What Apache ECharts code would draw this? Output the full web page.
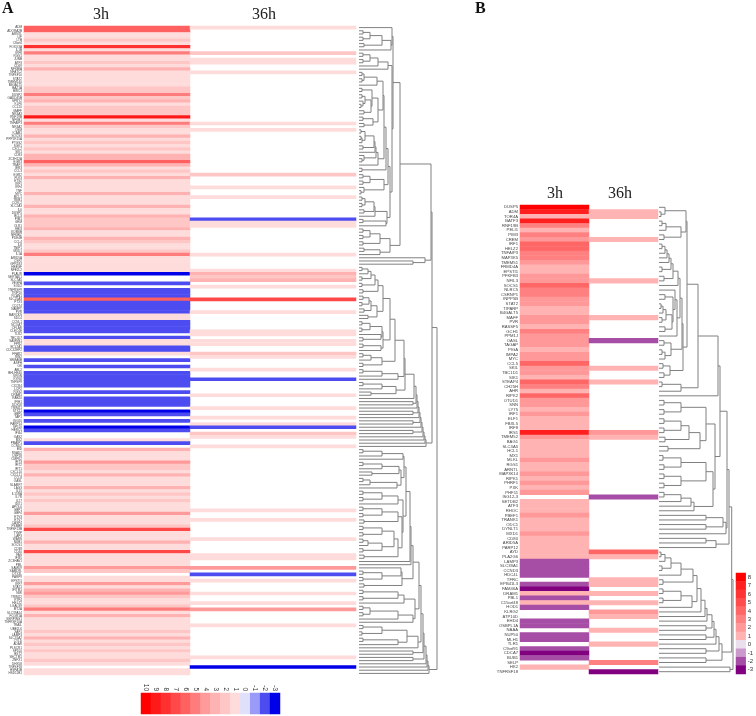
<!DOCTYPE html>
<html><head><meta charset="utf-8">
<style>html,body{margin:0;padding:0;background:#fff}#c{width:756px;height:716px}</style>
<script src="https://cdn.jsdelivr.net/npm/echarts@6/dist/echarts.min.js"></script>
</head><body><div id="c"></div>
<script>
const n = null, L = 0;
const columns = ['3h', '36h'];

const genesA = [
'ADM','ADORA2B','ARNTL','LIF','LTB','C8orf4','FOXO3A','IL1B','IRF8','RGS1',
'JUNB','ATF3','CD69','NFKBIA','NFATC2','TNFSF10','STAT2','TMEM140','B4GALT5','BAZ1A',
'BIRC3','DUSP2','GADD45B','SPRY2','KLF6','CCL20','MAFF','NR4A3','RNF19B','NFKB1',
'TNFAIP3','NR4A2','OSM','ICAM1','SOCS3','PPP1R15A','PTGS2','SGK1','CXCL2','SIK1',
'CD83','ZC3H12A','EGR3','TRAF1','IER3','CCL3','EGR2','PLK3','ETS2','IRF1',
'IRF4','TNF','MYC','MCL1','TRIB1','CCRL2','SLC2A3','IL6','DUSP5','BCL3',
'PIM1','GEM','OLR1','EBI3','KDM6B','NFKBIZ','PDE4B','CCL4','IL8','TNIP1',
'MXD1','IL1A','ARID5A','CSF2','GPR183','HBEGF','NFE2L2','PLAUR','SERTAD1','SLC7A5',
'VEGFA','SOD2','TNFRSF9','TRIP10','RCAN1','SLC25A3','PTX3','CD274','NAMPT','PVR',
'MARCKS','SDC4','CCNL1','NCOA7','CFLAR','CLEC4E','TLR2','TBC1D7','SAMSN1','FPR2',
'BCL2A1','CDC42EP2','FFAR2','RIN2','SEMA6B','ASPH','GK','ABL2','BHLHE40','SRGN',
'KYNU','TNFSF9','CXCR4','LCP2','RGS2','DRAM1','RAB20','IFIH1','DDX58','TRIM21',
'STX11','GBP5','TAP1','ISG20','PARP14','SP110','HERC5','IFI44','OAS2','MX2',
'PMAIP1','CCND2','BID','RSAD2','USP18','CMPK2','IFIT3','IFIT2','IFIT1','CXCL10',
'CXCL11','CCL8','OASL','SLAMF7','LAG3','IL15','IL15RA','IL7R','IL27','IDO1',
'APOL6','GBP1','GBP4','ETV3','ETV7','CASP4','PSMB9','TNFSF13B','TYMP','LAP3',
'WARS','NUB1','SOCS1','CD38','CD40','FAS','IFI35','ZC3HAV1','PML','SAMD9',
'SAMD9L','DTX3L','PARP9','EPSTI1','IRF7','STAT1','IFITM1','NMI','TRIM22','RTP4',
'HELZ2','LGALS9','MT2A','SLC39A14','FCGR1A','SERPING1','TNFRSF10A','TRAIL','UBE2L6','XAF1',
'LAMP3','SLC31A2','CYLD','ADAR','PLSCR1','SP100','BST2','SECTM1','ZNFX1','DHX58',
'TNFSF18','HSPA1B','HSD11B1'];

const values3hA = [
6,6,1,1,2,1,8,1,5,1,
1,2,1,3,1,1,1,1,1,2,
2,5,2,3,1,2,2,2,9,1,
5,2,1,1,3,1,2,1,2,1,
3,3,6,3,1,2,1,3,1,1,
1,1,3,1,1,1,3,1,1,3,
2,2,2,3,1,1,3,2,1,1,
2,5,1,1,1,1,1,-3,n,n,
-2,n,-2,-2,-2,6,-2,-2,-2,-2,
1,1,-2,-2,-2,-2,n,-2,1,1,
-2,-2,1,n,-2,n,-2,n,-2,-2,
-2,-2,-2,n,-2,n,-2,-2,-2,n,
-3,-2,n,-2,n,-3,-2,n,n,1,
-2,n,3,1,1,1,4,2,2,1,
3,1,1,1,3,1,2,1,2,1,
1,1,4,1,1,1,2,7,1,1,
1,3,1,1,7,1,1,1,1,4,
2,n,1,1,4,1,3,4,2,1,
1,2,5,1,3,1,1,1,1,2,
1,3,1,2,1,2,1,1,2,1,
n,1,1];

const rows36hA = [0,8,10,11,14,30,32,46,50,53,60,61,62,71,76,77,78,79,81,85,89,95,96,98,99,102,103,107,110,115,119,122,124,125,127,128,131,151,154,160,165,166,169,171,173,177,180,182,187,197,200];
const values36hA = [1,2,1,1,1,1,1,2,1,1,-2,1,1,1,1,3,2,3,1,7,1,1,1,1,1,2,1,1,-2,1,1,1,1,-2,2,1,1,1,1,1,1,1,4,-2,1,1,1,4,1,1,-3];

const genesB = [
'DUSP5','ADM','TOR4A','BATF3','RNF19B','PELI1','PIM3','CREM','IRF1','HELZ2',
'TNFAIP3','MAP3K5','TMEM51','FRMD4A','EPSTI1','PFKFB3','NFIL3','SOCS1','NLRC5','CSRNP1',
'INPP5B','STAT2','TIPARP','B4GALT5','MAFF','PVR','RASSF5','GCH1','PPM1J','OASL',
'TAGAP','PIGA','IMPA2','MYC','CCL5','SKIL','TBC1D1','SIK1','STEAP4','CH25H',
'AHR','RIPK2','OTUD1','SNN','LY75','IRF1','ELF1','FBXL5','IRF8','IRS1',
'TMEM52','BAG1','SLC3A5','HCL1','MX1','MLKL','RGS1','ARNTL','MAP3K14','RIPK1',
'PHRF1','PXK','PHF11','ISG12-3','SETDB2','ATF3','RHOC','PBEF1','TRANK1','ODC1',
'DYNLT1','MXD1','CD80','ARID5A','PARP12','AYD','PLA2G6','LAMP3','SLC39A1','CCND3',
'HDC4L','TFRC','EPB41L3','FAM46A','DRAM1','PBL1','C15orf48','HOD1','KLRG2','ATP10D',
'EHD4','OSBPL1A','NAAA','NUP50','MLH1','TLR1','C9orf91','CDCA7','BUB1','SELP',
'HK2','TNFRSF18'];

const values3hB = [
8,7,1,7,3,1,3,2,4,4,
3,3,2,1,1,2,2,4,3,3,
2,2,1,1,2,2,1,3,2,2,
2,1,2,2,4,2,2,1,4,3,
1,4,2,2,1,2,1,1,1,7,
2,1,1,1,1,2,1,1,2,1,
2,1,2,n,1,1,1,2,1,1,
1,2,1,1,1,1,1,-2,-2,-2,
-2,n,-2,-3,1,-2,1,-2,n,n,
-2,-2,n,-2,-2,n,-2,-3,-2,n,
1,n];
const rows36hB = [1,2,7,16,24,29,35,38,49,50,63,75,76,81,82,84,86,88,89,92,95,99,101];
const values36hB = [1,1,1,1,1,-2,1,1,2,1,-2,4,1,1,1,1,1,2,1,1,1,3,-3];

const legendA = [10,9,8,7,6,5,4,3,2,1,0,-1,-2,-3];
const coloursA = ['#ff0000','#ff1a1a','#ff3030','#ff4848','#ff6060','#ff7c7c','#ff9a9a','#ffb2b2','#ffc6c6','#ffdcdc','#e0e0fb','#9a9af8','#4c4cf0','#0000e8'];
const legendB = [8,7,6,5,4,3,2,1,0,-1,-2,-3];
const coloursB = ['#ff0000','#ff1f1f','#ff3434','#ff4c4c','#ff6666','#ff8080','#ff9999','#ffb3b3','#ebdfee','#cc99cc','#a64da6','#800080'];

/* dendrogram A: [merge height, upper child, lower child]; L is a leaf */
const a1 = [33,L,[32,[23,[11,[4,L,L],[4,L,L]],[5,L,L]],L]];
const a2 = [29,[19,[11,[4,L,L],[4,L,L]],L],L];
const a3a = [18,[5,[3,L,L],[3,L,L]],L];
const a3b = [19,[13,[3,L,L],[12,[6,[3,L,L],[4,L,[2,L,L]]],[5,L,L]]],[14,[4,L,L],[5,L,L]]];
const a3c = [19,[17,[16,[15,[6,[2,L,L],[3,[2,L,L],L]],[4,L,L]],L],[5,L,[3,L,L]]],L];
const a3 = [27,[25,[24,a3a,a3b],a3c],[3,L,L]];
const a4 = [25,[11,[4,L,L],[4,L,L]],[5,L,[2,L,L]]];
const a5 = [16,[15,[6,[3,L,L],[3,L,L]],[5,L,L]],L];
const a6 = [27,[4,L,L],L];
const a7 = [31,[21,[11,[4,L,L],[4,L,L]],[4,L,L]],[21,[5,L,L],L]];
const aRest = [33,a2,[31,[29,a3,a4],[28,a5,a6]]];
const aTop = [41,[34,a1,aRest],a7];
const m1 = [19,[16,[12,[9,[3,L,L],L],[3,L,L]],[3,L,L]],[4,L,L]];
const m2 = [18,[12,[10,[4,L,L],[3,L,L]],[5,L,L]],[9,L,L]];
const m3 = [24,[23,[11,[3,L,L],[3,L,L]],[22,L,[4,L,L]]],[22,[4,L,L],L]];
const m4 = [23,[12,[4,L,L],L],[4,L,L]];
const m5 = [39,[23,[4,L,L],L],L];
const m6 = [37,[23,[4,L,L],L],[12,L,L]];
const mCore = [46,[45,[36,[31,[24,m1,m2],m3],m4],m5],m6];
const mLadder = [67,[66,[65,[64,[63,[62,[61,[60,[59,[58,[57,[55,mCore,L],[54,L,L]],L],[54,L,L]],L],[54,L,L]],L],[54,L,L]],L],L],L],L];
const q1 = [44,[23,[4,L,L],L],L];
const q2 = [40,[23,[4,L,L],L],[13,L,L]];
const q3 = [38,[11,[4,L,L],L],L];
const q4 = [39,[23,[4,L,L],[4,L,L]],L];
const q5 = [39,[23,[4,L,L],[4,L,L]],[5,L,L]];
const q6 = [39,[35,[23,[4,L,L],[4,L,L]],[23,[9,[4,L,L],L],[4,L,L]]],[5,L,L]];
const q7 = [43,[42,L,[23,[4,L,L],[4,L,L]]],[5,L,L]];
const q8 = [45,[39,[4,L,L],[4,L,L]],L];
const q9 = [54,[39,[11,[4,L,L],[4,L,L]],L],L];
const q10 = [59,[48,[23,[4,L,L],[3,L,L]],[39,[4,L,L],L]],L];
const qCore = [52,[51,[47,[45,q1,[42,q2,q3]],[44,q4,[43,q5,q6]]],L],L];
const qLadder = [70,[69,[68,[67,[65,[64,[62,[60,[54,qCore,q7],[56,q8,q9]],q10],[54,L,L]],[54,L,L]],L],L],L],L];
const treeA = [78,[73,[72,aTop,[66,L,[54,L,L]]],mLadder],qLadder];

/* dendrogram B */
const b12 = [27,[6,L,[2,L,L]],[22,[7,[3,L,L],L],[5,L,L]]];
const bA = [19,[14,[12,[10,[8,[6,[3,L,L],L],L],L],[3,L,L]],[5,L,L]],L];
const bB = [18,[16,L,[14,[6,L,L],[13,[7,[4,[2,L,L],L],[3,L,L]],[6,L,L]]]],L];
const bC = [12,[5,L,L],[6,[3,L,L],L]];
const bD = [11,[4,L,L],[5,L,L]];
const bE = [28,b12,[24,[23,[21,bA,bB],bC],bD]];
const bT = [59,[39,bE,[22,[3,L,L],L]],L];
const bF1 = [22,[5,L,L],[5,L,L]];
const bF2 = [41,[30,[22,[5,L,L],[5,L,L]],[6,L,L]],[9,L,L]];
const bF3 = [54,[47,[22,[4,L,L],[5,L,L]],[22,[5,L,L],[5,L,L]]],[35,[32,[22,[5,L,L],L],L],L]];
const bFF = [56,[47,bF1,bF2],bF3];
const bG = [67,[64,[47,L,L],[47,L,L]],L];
const bU = [70,[68,[61,bT,bFF],bG],[57,[47,L,L],L]];
const bX1 = [22,[12,[6,[2,L,L],L],[3,L,L]],L];
const bB1 = [38,[34,bX1,[4,L,L]],[33,[22,[4,L,L],[4,L,L]],L]];
const bBot = [63,[60,[57,[55,[53,[48,[46,[42,bB1,L],L],L],[47,L,L]],[47,L,L]],L],[47,L,L]],[47,L,L]];
const treeB = [74,[72.7,bU,bBot],[71,L,L]];

function segments(tree) {
  const segs = []; let leaf = 0;
  (function walk(node) {
    if (node === L) { leaf++; return [0, leaf - 0.5]; }
    const a = walk(node[1]), b = walk(node[2]), h = node[0];
    segs.push([a[0], a[1], h, a[1]], [b[0], b[1], h, b[1]], [h, a[1], h, b[1]]);
    return [h, (a[1] + b[1]) / 2];
  })(tree);
  segs.leaves = leaf;
  return segs;
}
const segA = segments(treeA), segB = segments(treeB);
if (segA.leaves !== genesA.length || values3hA.length !== genesA.length) throw new Error('A ' + segA.leaves + ' ' + genesA.length + ' ' + values3hA.length);
if (segB.leaves !== genesB.length || values3hB.length !== genesB.length) throw new Error('B ' + segB.leaves + ' ' + genesB.length + ' ' + values3hB.length);

function cells(v3h, rows36, v36) {
  const out = [];
  v3h.forEach((v, i) => { if (v !== n) out.push([0, i, v]); });
  rows36.forEach((r, i) => out.push([1, r, v36[i]]));
  return out;
}
const serif = '"Liberation Serif","Times New Roman",serif', sans = '"Liberation Sans",Arial,sans-serif';
const heat = (xi, yi, data) => ({type:'heatmap', xAxisIndex:xi, yAxisIndex:yi, data, silent:true, itemStyle:{borderWidth:0}, emphasis:{disabled:true}});
const dendro = (xi, yi, data) => ({
  type:'custom', xAxisIndex:xi, yAxisIndex:yi, data, silent:true, clip:false,
  encode:{x:[0,2], y:[1,3]},
  renderItem(p, api) {
    const a = api.coord([api.value(0), api.value(1)]), b = api.coord([api.value(2), api.value(3)]);
    return {type:'line', shape:{x1:a[0], y1:a[1], x2:b[0], y2:b[1]}, style:{stroke:'#808080', lineWidth:1}};
  }
});
const colAxis = gridIndex => ({type:'category', gridIndex, data:columns, position:'top',
  axisLine:{show:false}, axisTick:{show:false}, splitLine:{show:false}, axisLabel:{show:false}});
const geneAxis = (gridIndex, data, size) => ({type:'category', gridIndex, data, inverse:true,
  axisLine:{show:false}, axisTick:{show:false}, splitLine:{show:false},
  axisLabel:{interval:0, fontFamily:sans, fontSize:size, color:'#444', margin:2, hideOverlap:false}});
const treeX = gridIndex => ({type:'value', gridIndex, min:0, max:80, show:false});
const treeY = (gridIndex, count) => ({type:'value', gridIndex, min:0, max:count, inverse:true, show:false});
const panel = (text, left) => ({text, left, top:1, padding:0, textStyle:{fontFamily:serif, fontSize:16, fontWeight:'bold', color:'#111'}});
const head = (text, left, top) => ({text, left, top, padding:0, textAlign:'center', textStyle:{fontFamily:serif, fontSize:16, fontWeight:'normal', color:'#222'}});

const chart = echarts.init(document.getElementById('c'), null, {renderer:'canvas'});
chart.setOption({
  animation:false, backgroundColor:'#fff',
  title:[
    panel('A', 2), panel('B', 475),
    head(columns[0], 101, 7), head(columns[1], 264, 7),
    head(columns[0], 555, 186), head(columns[1], 620, 186)
  ],
  grid:[
    {left:24, width:332, top:26, height:649},
    {left:359, width:80, top:26, height:649},
    {left:141, width:139, top:693, height:21},
    {left:520, width:138, top:205, height:469},
    {left:659, width:80, top:205, height:469},
    {left:736, width:14, top:573, height:101}
  ],
  xAxis:[
    colAxis(0), treeX(1),
    {type:'category', gridIndex:2, data:legendA.map(String), position:'top', axisLine:{show:false}, axisTick:{show:false},
      axisLabel:{rotate:90, interval:0, fontFamily:sans, fontSize:6.5, color:'#333', margin:2}},
    colAxis(3), treeX(4),
    {type:'category', gridIndex:5, data:['k'], show:false}
  ],
  yAxis:[
    geneAxis(0, genesA, 3.1), treeY(1, genesA.length),
    {type:'category', gridIndex:2, data:['k'], show:false},
    geneAxis(3, genesB, 4.2), treeY(4, genesB.length),
    {type:'category', gridIndex:5, data:legendB.map(String), inverse:true, position:'right', axisLine:{show:false}, axisTick:{show:false},
      axisLabel:{interval:0, fontFamily:sans, fontSize:6, color:'#333', margin:2}}
  ],
  visualMap:[
    {type:'piecewise', show:false, dimension:2, seriesIndex:[0,2], pieces:legendA.map((v,i)=>({value:v, color:coloursA[i]}))},
    {type:'piecewise', show:false, dimension:2, seriesIndex:[3,5], pieces:legendB.map((v,i)=>({value:v, color:coloursB[i]}))}
  ],
  series:[
    heat(0,0,cells(values3hA, rows36hA, values36hA)),
    dendro(1,1,segA),
    heat(2,2,legendA.map((v,i)=>[i,0,v])),
    heat(3,3,cells(values3hB, rows36hB, values36hB)),
    dendro(4,4,segB),
    heat(5,5,legendB.map((v,i)=>[0,i,v]))
  ]
});
</script></body></html>
